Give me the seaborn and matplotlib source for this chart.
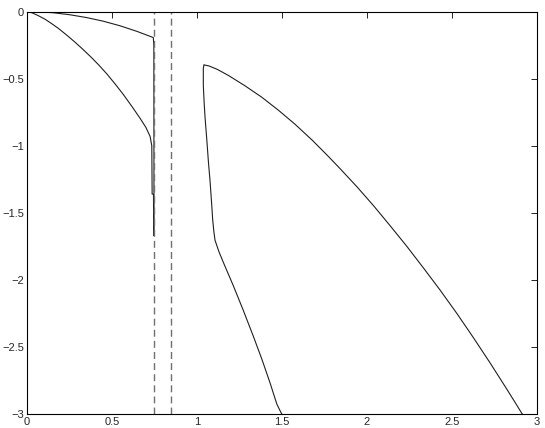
import numpy as np
import pandas as pd
import matplotlib
matplotlib.use("Agg")
import matplotlib.pyplot as plt
import seaborn as sns

# left part: two curves that meet the first dashed line
upper_x = [0.0, 0.08, 0.156, 0.254, 0.352, 0.45, 0.548, 0.646, 0.744, 0.747, 0.748]
upper_y = [0.0, -0.002, -0.008, -0.023, -0.044, -0.071, -0.105, -0.146, -0.193, -0.25, -1.67]

lower_x = [0.0, 0.03, 0.065, 0.107, 0.145, 0.185, 0.235, 0.284, 0.33, 0.378, 0.425, 0.47,
           0.52, 0.568, 0.62, 0.666, 0.70, 0.725, 0.735, 0.737, 0.745, 0.746]
lower_y = [0.0, -0.008, -0.028, -0.056, -0.088, -0.124, -0.175, -0.228, -0.281, -0.339, -0.40, -0.463,
           -0.54, -0.618, -0.71, -0.795, -0.862, -0.93, -1.0, -1.36, -1.36, -1.67]

# right part: outer branch from the peak
outer_x = [1.042, 1.07, 1.12, 1.185, 1.28, 1.382, 1.48, 1.578, 1.68, 1.774, 1.842, 1.941, 2.038,
           2.136, 2.235, 2.332, 2.43, 2.529, 2.626, 2.725, 2.823, 2.882, 2.911, 2.915]
outer_y = [-0.397, -0.404, -0.43, -0.475, -0.55, -0.638, -0.735, -0.84, -0.96, -1.08, -1.17, -1.305, -1.445,
           -1.595, -1.75, -1.91, -2.075, -2.25, -2.43, -2.62, -2.815, -2.935, -2.995, -3.0]

# right part: inner branch from the peak
inner_x = [1.042, 1.038, 1.038, 1.043, 1.048, 1.058, 1.068, 1.078, 1.088, 1.093, 1.1, 1.107,
           1.13, 1.156, 1.215, 1.274, 1.332, 1.382, 1.431, 1.47, 1.495, 1.5]
inner_y = [-0.397, -0.42, -0.55, -0.68, -0.785, -0.946, -1.12, -1.27, -1.45, -1.55, -1.64, -1.705,
           -1.79, -1.87, -2.045, -2.23, -2.42, -2.59, -2.77, -2.925, -2.99, -3.0]

dashed_x = [0.75, 0.85]

x_ticks = [0, 0.5, 1, 1.5, 2, 2.5, 3]
y_ticks = [0, -0.5, -1, -1.5, -2, -2.5, -3]

sns.set_style("white")
plt.rcParams['font.family'] = ['Liberation Sans', 'DejaVu Sans']
plt.rcParams['xtick.direction'] = 'in'
plt.rcParams['ytick.direction'] = 'in'

fig = plt.figure(figsize=(5.45, 4.28), dpi=100)
ax = fig.add_axes([0.0492, 0.0327, 0.936, 0.940])

for xs, ys in [(upper_x, upper_y), (lower_x, lower_y), (outer_x, outer_y), (inner_x, inner_y)]:
    df = pd.DataFrame({'x': xs, 'y': ys})
    sns.lineplot(data=df, x='x', y='y', sort=False, estimator=None,
                 color='#202020', linewidth=0.8, ax=ax)

for xv in dashed_x:
    ax.axvline(xv, color='#707070', linewidth=1.0, dashes=(5, 3))

ax.set_xlim(0, 3)
ax.set_ylim(-3, 0)
ax.set_xticks(x_ticks)
ax.set_yticks(y_ticks)
ax.set_xticklabels(['0', '0.5', '1', '1.5', '2', '2.5', '3'])
ax.set_yticklabels(['0', '\u22120.5', '\u22121', '\u22121.5', '\u22122', '\u22122.5', '\u22123'])
ax.set_xlabel('')
ax.set_ylabel('')
ax.tick_params(axis='both', which='both', top=True, right=True, length=4,
               width=0.6, labelsize=8, pad=2, color='black')
for sp in ax.spines.values():
    sp.set_color('black')
    sp.set_linewidth(0.8)

plt.savefig('out.png', dpi=100)
